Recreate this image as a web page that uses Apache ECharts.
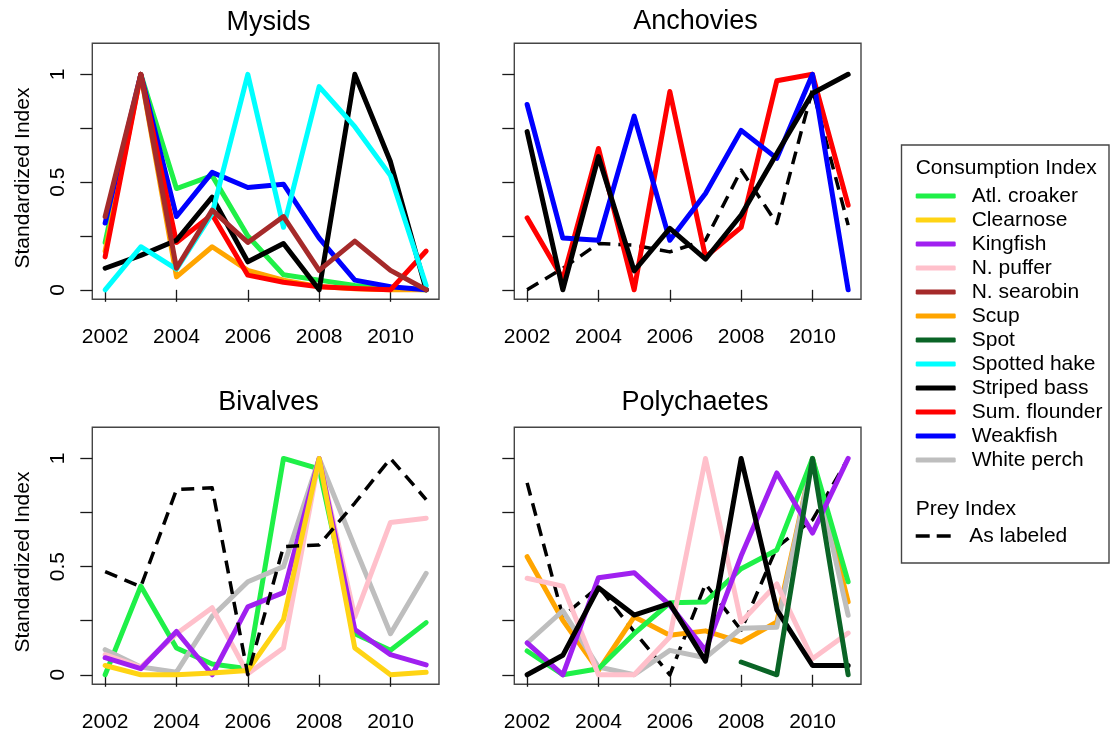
<!DOCTYPE html>
<html>
<head>
<meta charset="utf-8">
<title>Consumption and prey indices</title>
<script src="https://cdn.jsdelivr.net/npm/echarts@6/dist/echarts.min.js"></script>
<style>
  html, body { margin: 0; padding: 0; background: #ffffff; }
  #chart { width: 1111px; height: 736px; }
</style>
</head>
<body>
<div id="chart"></div>
<script>
// ---- data ---------------------------------------------------------------
const years = [2002, 2003, 2004, 2005, 2006, 2007, 2008, 2009, 2010, 2011];
const xTickValues = [2002, 2004, 2006, 2008, 2010];
const yTickValues = [0, 0.25, 0.5, 0.75, 1];
const yLabelValues = [0, 0.5, 1];
const panelTitles = ['Mysids', 'Anchovies', 'Bivalves', 'Polychaetes'];

const speciesNames = ['Atl. croaker', 'Clearnose', 'Kingfish', 'N. puffer', 'N. searobin', 'Scup',
                      'Spot', 'Spotted hake', 'Striped bass', 'Sum. flounder', 'Weakfish', 'White perch'];
const speciesColors = ['#1ff048', '#ffd414', '#a020f0', '#ffc0cb', '#a52a2a', '#ffa500',
                       '#0a6426', '#00ffff', '#000000', '#ff0000', '#0000ff', '#bebebe'];
const preyName = 'As labeled';

// Mysids
const mysidsCroaker  = [0.22, 1, 0.47, 0.53, 0.25, 0.07, 0.045, 0.02, 0.005, 0];
const mysidsScup     = [0.18, 1, 0.06, 0.20, 0.09, 0.045, 0.015, 0.005, 0, 0];
const mysidsWeakfish = [0.31, 1, 0.34, 0.545, 0.475, 0.49, 0.24, 0.045, 0.014, 0];
const mysidsFlounder = [0.153, 1, 0.22, 0.35, 0.068, 0.035, 0.014, 0.006, 0, 0.18];
const mysidsBass     = [0.10, 0.16, 0.23, 0.43, 0.13, 0.215, 0, 1, 0.594, 0];
const mysidsHake     = [0, 0.20, 0.096, 0.354, 1, 0.29, 0.943, 0.757, 0.53, 0.02];
const mysidsSearobin = [0.34, 1, 0.10, 0.37, 0.22, 0.34, 0.09, 0.226, 0.09, 0];

// Anchovies
const anchoviesPrey     = [0, 0.10, 0.215, 0.207, 0.176, 0.23, 0.556, 0.308, 0.93, 0.30];
const anchoviesFlounder = [0.334, 0.05, 0.656, 0, 0.92, 0.153, 0.29, 0.97, 1, 0.393];
const anchoviesWeakfish = [0.86, 0.24, 0.23, 0.806, 0.23, 0.447, 0.74, 0.61, 1, 0];
const anchoviesBass     = [0.734, 0, 0.618, 0.088, 0.285, 0.142, 0.347, 0.633, 0.912, 1];

// Bivalves
const bivalvesPrey      = [0.477, 0.407, 0.856, 0.864, 0, 0.593, 0.60, 0.794, 1, 0.81];
const bivalvesCroaker   = [0, 0.41, 0.124, 0.05, 0.028, 1, 0.952, 0.19, 0.113, 0.241];
const bivalvesPerch     = [0.116, 0.036, 0.012, 0.27, 0.43, 0.50, 1, 0.59, 0.19, 0.469];
const bivalvesPuffer    = [0.093, 0.036, 0.19, 0.31, 0.005, 0.124, 1, 0.268, 0.704, 0.724];
const bivalvesKingfish  = [0.079, 0.028, 0.20, 0, 0.314, 0.38, 1, 0.209, 0.093, 0.046];
const bivalvesClearnose = [0.043, 0, 0, 0.008, 0.02, 0.255, 1, 0.124, 0, 0.012];

// Polychaetes
const polyPrey     = [0.887, 0.27, 0.407, 0.20, 0, 0.42, 0.206, 0.59, 0.716, 1];
const polyScup     = [0.546, 0.252, 0.02, 0.268, 0.183, 0.203, 0.151, 0.244, 1, 0.337];
const polyPerch    = [0.147, 0.296, 0.036, 0, 0.113, 0.079, 0.215, 0.22, 1, 0.275];
const polyCroaker  = [0.11, 0, 0.028, 0.19, 0.333, 0.337, 0.49, 0.577, 1, 0.43];
const polyPuffer   = [0.446, 0.41, 0, 0, 0.175, 1, 0.244, 0.42, 0.074, 0.193];
const polyKingfish = [0.147, 0, 0.449, 0.472, 0.322, 0.113, 0.55, 0.933, 0.655, 1];
const polyBass     = [0, 0.09, 0.402, 0.276, 0.33, 0.063, 1, 0.30, 0.043, 0.043];
const polySpot     = [null, null, null, null, null, null, 0.059, 0, 1, 0];

// series drawn in each panel, bottom to top
const panelSeries = [
  [['Atl. croaker', mysidsCroaker], ['Scup', mysidsScup], ['Weakfish', mysidsWeakfish],
   ['Sum. flounder', mysidsFlounder], ['Striped bass', mysidsBass], ['Spotted hake', mysidsHake],
   ['N. searobin', mysidsSearobin]],
  [[preyName, anchoviesPrey], ['Sum. flounder', anchoviesFlounder], ['Weakfish', anchoviesWeakfish],
   ['Striped bass', anchoviesBass]],
  [['Atl. croaker', bivalvesCroaker], ['White perch', bivalvesPerch], ['N. puffer', bivalvesPuffer],
   ['Kingfish', bivalvesKingfish], ['Clearnose', bivalvesClearnose], [preyName, bivalvesPrey]],
  [[preyName, polyPrey], ['Scup', polyScup], ['White perch', polyPerch], ['Atl. croaker', polyCroaker],
   ['N. puffer', polyPuffer], ['Kingfish', polyKingfish], ['Striped bass', polyBass], ['Spot', polySpot]]
];

// ---- layout -------------------------------------------------------------
const FONT = '"Liberation Sans", Arial, Helvetica, sans-serif';
const gridBoxes = [
  { left: 92.3,  top: 43.3,  width: 346.7, height: 256 },
  { left: 514.3, top: 43.3,  width: 346.7, height: 256 },
  { left: 92.3,  top: 427.3, width: 346.7, height: 257 },
  { left: 514.3, top: 427.3, width: 346.7, height: 257 }
];
const titleAnchors = [[268.5, 22.5], [695.5, 22], [268.5, 402.5], [695, 403]];
const X_MIN = 2001.64, X_MAX = 2011.36;
const Y_MIN = -0.044, Y_MAX = 1.144;
const LINE_W = 5;
const PREY_W = 3.5;

const colorOf = name => name === preyName ? '#000000' : speciesColors[speciesNames.indexOf(name)];

const grid = gridBoxes.map(b => Object.assign({
  show: true, borderColor: '#454545', borderWidth: 1.4, backgroundColor: 'transparent',
  containLabel: false, outerBoundsMode: 'none'
}, b));

const tickStyle = { show: true, length: 12, lineStyle: { color: '#1a1a1a', width: 1.3 } };
const labelText = { color: '#000000', fontSize: 21, fontFamily: FONT };

const xAxis = gridBoxes.map((b, i) => ({
  type: 'value', gridIndex: i, min: X_MIN, max: X_MAX,
  axisLine: { show: false }, splitLine: { show: false },
  axisTick: Object.assign({ customValues: xTickValues }, tickStyle),
  axisLabel: Object.assign({ customValues: xTickValues, margin: 27, formatter: v => String(v) }, labelText)
}));

const yAxis = gridBoxes.map((b, i) => ({
  type: 'value', gridIndex: i, min: Y_MIN, max: Y_MAX,
  axisLine: { show: false }, splitLine: { show: false },
  axisTick: Object.assign({ customValues: yTickValues }, tickStyle),
  axisLabel: Object.assign({ customValues: (i % 2 === 0 ? yLabelValues : []), rotate: 90, margin: 24,
                             formatter: v => String(v) }, labelText)
}));

const series = [];
panelSeries.forEach((list, p) => {
  list.forEach(([name, values]) => {
    const prey = name === preyName;
    series.push({
      type: 'line', name: name, xAxisIndex: p, yAxisIndex: p,
      data: years.map((yr, k) => [yr, values[k]]),
      symbol: 'none', silent: true, animation: false, connectNulls: false,
      lineStyle: prey
        ? { color: '#000000', width: PREY_W, type: [13, 8], cap: 'butt', join: 'round' }
        : { color: colorOf(name), width: LINE_W, type: 'solid', cap: 'round', join: 'round' },
      itemStyle: { color: colorOf(name) }
    });
  });
});

const graphic = [];
panelTitles.forEach((t, i) => {
  graphic.push({
    type: 'text', x: titleAnchors[i][0], y: titleAnchors[i][1], silent: true,
    style: { text: t, font: '27px ' + FONT, fill: '#000000', align: 'center', verticalAlign: 'middle' }
  });
});
[178, 562].forEach(cy => {
  graphic.push({
    type: 'text', x: 23.5, y: cy, rotation: Math.PI / 2, silent: true,
    style: { text: 'Standardized Index', font: '21px ' + FONT, fill: '#000000', align: 'center', verticalAlign: 'middle' }
  });
});
// legend frame and headings
graphic.push({
  type: 'rect', silent: true, shape: { x: 901.5, y: 145, width: 207.5, height: 418 },
  style: { fill: 'none', stroke: '#454545', lineWidth: 1.4 }
});
graphic.push({
  type: 'text', x: 915.7, y: 168, silent: true,
  style: { text: 'Consumption Index', font: '21px ' + FONT, fill: '#000000', align: 'left', verticalAlign: 'middle' }
});
graphic.push({
  type: 'text', x: 915.7, y: 509, silent: true,
  style: { text: 'Prey Index', font: '21px ' + FONT, fill: '#000000', align: 'left', verticalAlign: 'middle' }
});

const legendCommon = {
  orient: 'vertical', left: 915.7, padding: 0, itemGap: 3, itemWidth: 40,
  selectedMode: false,
  textStyle: { color: '#000000', fontSize: 21, fontFamily: FONT, padding: [0, 0, 0, 11] }
};

const option = {
  backgroundColor: '#ffffff',
  animation: false,
  grid, xAxis, yAxis, series, graphic,
  legend: [
    Object.assign({}, legendCommon, {
      top: 185.5, data: speciesNames, icon: 'roundRect', itemHeight: LINE_W
    }),
    Object.assign({}, legendCommon, {
      top: 525.5, data: [preyName], itemHeight: PREY_W,
      icon: 'path://M0,0H16V4H0Z M24,0H40V4H24Z'
    })
  ]
};

const chart = echarts.init(document.getElementById('chart'), null, { renderer: 'canvas' });
chart.setOption(option);
</script>
</body>
</html>
